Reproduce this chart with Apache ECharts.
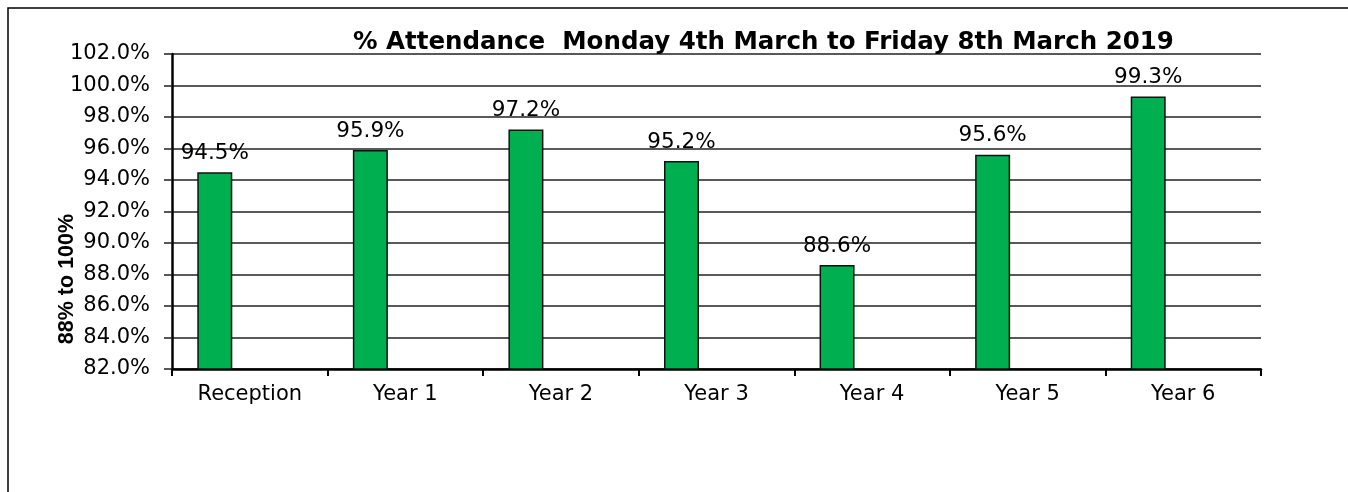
<!DOCTYPE html>
<html>
<head>
<meta charset="utf-8">
<script src="https://cdn.jsdelivr.net/npm/echarts@6/dist/echarts.min.js"></script>
<style>
html,body{margin:0;padding:0;background:#fff;}
#chart{width:1348px;height:492px;}
</style>
</head>
<body>
<div id="chart"></div>
<script>
const titleText = '% Attendance  Monday 4th March to Friday 8th March 2019';
const yAxisTitle = '88% to 100%';
const categories = ['Reception', 'Year 1', 'Year 2', 'Year 3', 'Year 4', 'Year 5', 'Year 6'];
const attendance = [94.5, 95.9, 97.2, 95.2, 88.6, 95.6, 99.3];
const emptySeriesA = [];
const emptySeriesB = [];
const yMin = 82, yMax = 102, yStep = 2;

const chart = echarts.init(document.getElementById('chart'), null, {renderer: 'canvas'});
const labelFont = 'DejaVu Sans';
const barBase = {
  type: 'bar',
  barWidth: 35,
  barGap: '0%',
  itemStyle: {color: '#00B050', borderColor: '#111', borderWidth: 1.5}
};
chart.setOption({
  animation: false,
  title: {
    text: titleText,
    left: 353,
    top: 30,
    padding: 0,
    textStyle: {fontFamily: labelFont, fontWeight: 'bold', fontSize: 24.5, color: '#000'}
  },
  grid: {left: 172, right: 87, top: 54, bottom: 123, containLabel: false},
  xAxis: {
    type: 'category',
    data: categories,
    axisLine: {show: true, lineStyle: {color: '#000', width: 2.5}},
    axisTick: {show: true, length: 7, lineStyle: {color: '#000', width: 2}},
    axisLabel: {fontFamily: labelFont, fontSize: 21, color: '#000', margin: 15}
  },
  yAxis: {
    type: 'value',
    min: yMin,
    max: yMax,
    interval: yStep,
    axisLine: {show: true, lineStyle: {color: '#000', width: 2.5}},
    axisTick: {show: true, length: 8, lineStyle: {color: '#222', width: 1.5}},
    splitLine: {show: true, lineStyle: {color: '#222', width: 1.5}},
    axisLabel: {fontFamily: labelFont, fontSize: 21, color: '#000', margin: 22,
      formatter: v => v.toFixed(1) + '%'}
  },
  graphic: [
    {type: 'rect', shape: {x: 8, y: 8, width: 1400, height: 600}, style: {fill: 'none', stroke: '#000', lineWidth: 1.5}, silent: true, z: 100},
    {type: 'text', x: 67, y: 279, rotation: Math.PI / 2,
      style: {text: yAxisTitle, x: 0, y: 0, textAlign: 'center', textVerticalAlign: 'middle',
        fontFamily: 'Liberation Sans', fontWeight: 'bold', fontSize: 21.5, fill: '#000'}}
  ],
  series: [
    Object.assign({}, barBase, {
      name: 'Attendance',
      data: attendance,
      label: {show: true, position: 'top', distance: 8, fontFamily: labelFont, fontSize: 21.5, color: '#000',
        formatter: p => p.value.toFixed(1) + '%'}
    }),
    Object.assign({}, barBase, {name: 'B', data: emptySeriesA}),
    Object.assign({}, barBase, {name: 'C', data: emptySeriesB})
  ]
});
</script>
</body>
</html>
